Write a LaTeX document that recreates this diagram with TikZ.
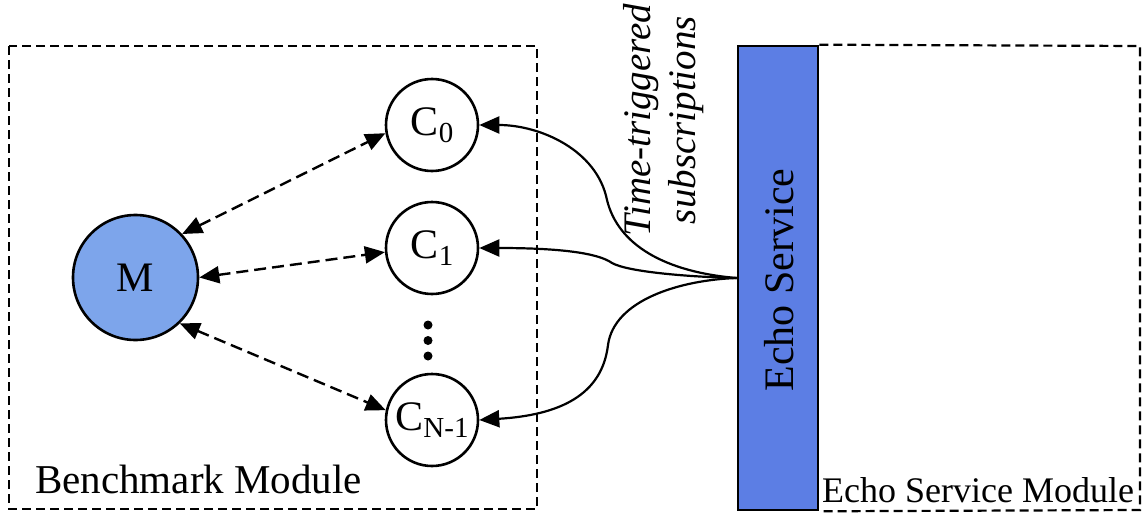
\documentclass[tikz,border=0pt]{standalone}
\usepackage{fontspec}
\setmainfont{Liberation Serif}
\usetikzlibrary{arrows.meta}
\definecolor{mblue}{RGB}{125,165,235}
\definecolor{barblue}{RGB}{92,126,228}
\newcommand\lowsub[1]{\raisebox{-7pt}{\fontsize{29}{29}\selectfont #1}}

\begin{document}
\begin{tikzpicture}[x=1pt,y=-1pt,
  modbox/.style={draw, line width=2.2pt, dash pattern=on 9pt off 5pt},
  client/.style={circle, draw, line width=2.6pt, minimum size=92pt, inner sep=0pt,
                 font=\fontsize{42}{42}\selectfont},
  master/.style={circle, draw, line width=2.6pt, fill=mblue, minimum size=125pt,
                 inner sep=0pt, font=\fontsize{42}{42}\selectfont},
  tip/.tip={Triangle[length=20pt,width=17pt]},
  link/.style={line width=2.4pt, dash pattern=on 12pt off 6pt, tip-tip},
  subline/.style={line width=2.2pt, -tip},
  dot/.style={circle, fill, minimum size=9pt, inner sep=0pt},
]
\useasboundingbox (0,0) rectangle (1143,514);

% module frames
\draw[modbox] (9,46) rectangle (537,509);
\node[draw, line width=2.6pt, fill=barblue, minimum width=80pt, minimum height=464pt,
      inner sep=0pt] (bar) at (778,278) {};
\draw[modbox] (bar.north east) -- (1140,46) -- (1140,510) -- (bar.south east);
\node[rotate=90, font=\fontsize{42}{42}\selectfont, inner sep=0pt] (barlabel)
      at (779,280) {Echo Service};

% benchmark master and clients
\node[master] (M) at (135.5,277.5) {M};
\node[client] (C0) at (432,125) {C\lowsub{0}};
\node[client] (C1) at (432,248) {C\lowsub{1}};
\node[client] (CN) at (432,420) {C\lowsub{N-1}};
\node[dot] (d1) at (428,325) {};
\node[dot] (d2) at (428,340.5) {};
\node[dot] (d3) at (428,356) {};

\draw[link] (M.43) -- (C0.190);
\draw[link] (M.0) -- (C1.185);
\draw[link] (M.-46) -- (CN.168);

% subscriptions from the echo service
\draw[subline] (bar.west) .. controls (665,272) and (618,245) .. (607,200)
      .. controls (597,150) and (540,125) .. (C0.east);
\draw[subline] (bar.west) .. controls (690,277) and (628,272) .. (612,263)
      .. controls (598,253) and (560,248) .. (C1.east);
\draw[subline] (bar.west) .. controls (680,280) and (614,300) .. (608,345)
      .. controls (602,395) and (560,415) .. (CN.east);

% labels
\node[rotate=90, align=center, inner sep=0pt,
      font=\itshape\fontsize{39}{45}\selectfont] (tts) at (664,120)
      {Time-triggered\\subscriptions};
\node[anchor=base west, inner sep=0pt, font=\fontsize{41}{41}\selectfont] (bml)
      at (35,493) {Benchmark Module};
\node[anchor=base west, inner sep=0pt, font=\fontsize{36}{36}\selectfont] (esml)
      at (822,502) {Echo Service Module};
\end{tikzpicture}
\end{document}
